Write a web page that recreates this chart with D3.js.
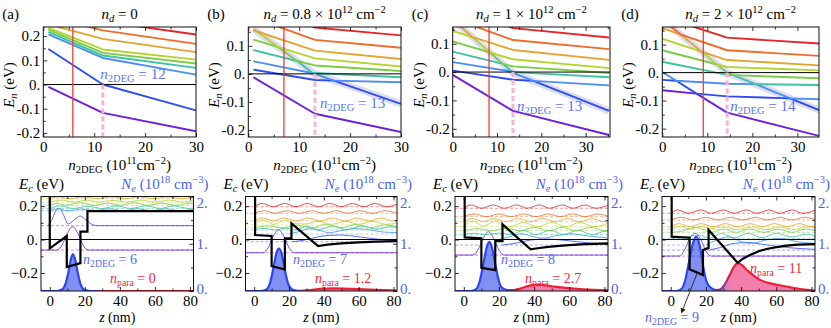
<!DOCTYPE html>
<html>
<head>
<meta charset="utf-8">
<script src="https://cdn.jsdelivr.net/npm/d3@7"></script>
<style>
  body { margin: 0; background: #fff; }
  svg text { font-family: "Liberation Serif", "DejaVu Serif", serif !important; }
</style>
</head>
<body>
<svg id="fig" width="831" height="328"></svg>
<script>
// ---------- data ----------
const levelColors = ["#6c1fdc", "#2e4cf2", "#4b8ff0", "#3fc29f", "#7ccd46", "#b6d42f", "#e2a52f", "#f06a28", "#e42626"];

const panelTags = ["(a)", "(b)", "(c)", "(d)"];
const ndValues = ["0", "0.8", "1", "2"];
const redLineN = [5.8, 7, 8.2, 9.1];
const pinkLineN = [11.7, 13.1, 13.6, 14.4];
const n2degTop = [12, 13, 13, 14];
const n2degBottom = [6, 7, 8, 9];
const nParaBottom = ["0", "1.2", "2.7", "11"];

const topXTicks = [0, 10, 20, 30];
const topXMinor = [5, 15, 25, 35];
const topYTicksA = [-0.2, -0.1, 0, 0.1, 0.2];
const topYTicks = [-0.2, -0.1, 0, 0.1];
const topYMinor = [-0.15, -0.05, 0.05, 0.15];

// E_n (eV) vs n2DEG, one polyline per level (index order, lowest first)
const levelsA = [
  [[1, -0.01], [11.7, -0.117], [30, -0.193]],
  [[1, 0.147], [11.7, 0.0], [30, -0.107]],
  [[1, 0.207], [11.7, 0.11], [30, 0.041]],
  [[1, 0.218], [11.7, 0.12], [30, 0.069]],
  [[1, 0.227], [11.7, 0.131], [30, 0.087]],
  [[1, 0.234], [11.7, 0.145], [30, 0.103]],
  [[1, 0.249], [11.7, 0.189], [30, 0.134]],
  [[1, 0.28], [11.7, 0.224], [30, 0.168]],
  [[1, 0.32], [11.7, 0.261], [30, 0.207]]
];
const levelsB = [
  [[1, -0.012], [13.1, -0.142], [30, -0.207]],
  [[1, 0.015], [13.1, -0.022], [16.8, -0.024], [30, -0.107]],
  [[1, 0.045], [12.7, 0.002], [13.1, 0.0], [16.8, -0.024], [30, -0.03]],
  [[1, 0.085], [9.6, 0.046], [12.7, 0.002], [13.1, 0.003], [30, -0.012]],
  [[1, 0.122], [5.9, 0.095], [9.6, 0.046], [13.1, 0.03], [30, 0.01]],
  [[1, 0.155], [1.7, 0.151], [5.9, 0.095], [13.1, 0.055], [30, 0.026]],
  [[1, 0.16], [1.7, 0.151], [13.1, 0.083], [30, 0.053]],
  [[1, 0.2], [13.1, 0.121], [30, 0.093]],
  [[1, 0.25], [13.1, 0.165], [30, 0.137]]
];
const levelsC = [
  [[0, -0.01], [13.6, -0.137], [35.3, -0.222]],
  [[0, 0.005], [13.6, -0.027], [18.2, -0.031], [35.3, -0.137]],
  [[0, 0.035], [13.3, 0.002], [13.6, -0.003], [18.2, -0.031], [35.3, -0.047]],
  [[0, 0.072], [11.3, 0.029], [13.3, 0.002], [13.6, 0.0], [35.3, -0.018]],
  [[0, 0.108], [8.4, 0.069], [11.3, 0.029], [13.6, 0.02], [35.3, -0.003]],
  [[0, 0.145], [4.5, 0.123], [8.4, 0.069], [13.6, 0.045], [35.3, 0.014]],
  [[0, 0.185], [4.5, 0.123], [13.6, 0.078], [35.3, 0.043]],
  [[0, 0.19], [13.6, 0.113], [35.3, 0.081]],
  [[0, 0.24], [13.6, 0.155], [35.3, 0.122]]
];
const levelsD = [
  [[0, -0.063], [7.6, -0.075], [14.4, -0.143], [34.8, -0.226]],
  [[0, -0.026], [3.1, -0.029], [7.6, -0.075], [14.4, -0.085], [28.4, -0.092], [34.8, -0.134]],
  [[0, 0.002], [3.1, -0.029], [14.4, -0.04], [20.7, -0.041], [28.4, -0.092], [34.8, -0.095]],
  [[0, 0.039], [14.4, -0.008], [15.7, -0.009], [20.7, -0.041], [34.8, -0.044]],
  [[0, 0.08], [12.2, 0.029], [14.4, 0.0], [15.7, -0.009], [34.8, -0.02]],
  [[0, 0.121], [8.7, 0.075], [12.2, 0.029], [14.4, 0.02], [34.8, 0.008]],
  [[0, 0.159], [4.0, 0.137], [8.7, 0.075], [14.4, 0.045], [34.8, 0.026]],
  [[0, 0.19], [4.0, 0.137], [14.4, 0.08], [34.8, 0.06]],
  [[0, 0.2], [14.4, 0.125], [34.8, 0.104]]
];
// the steep 2DEG state (lavender halo)
const haloB = [[1, 0.16], [13.1, 0.0], [30, -0.107]];
const haloC = [[0, 0.185], [13.6, -0.003], [35.3, -0.137]];
const haloD = [[0, 0.19], [14.4, 0.0], [34.8, -0.134]];

// ---------- bottom row: conduction band, states, densities ----------
const botZTicks = [0, 20, 40, 60, 80];
const botZMinor = [10, 30, 50, 70];
const botEcTicks = [-0.2, 0, 0.2];
const botEcMinor = [-0.1, 0.1];
const botNeTicks = [0, 1, 2];
const botNeMinor = [0.5, 1.5];

const ecA = [[0, 0.27], [0, -0.053], [9.7, 0.021], [9.7, -0.165], [17.5, -0.141], [17.5, 0.047], [21.5, 0.047], [21.5, 0.17], [82, 0.17]];
const ecB = [[0.5, 0.27], [0.5, 0.027], [10, 0.021], [10, -0.159], [17.6, -0.179], [17.6, 0.007], [21.4, 0.007], [21.4, 0.097], [36.7, -0.039], [42, -0.031], [50, -0.023], [60, -0.017], [70, -0.013], [82, -0.01]];
const ecC = [[0.5, 0.27], [0.5, 0.013], [10, 0.007], [10, -0.169], [17.9, -0.183], [17.9, -0.009], [22, -0.009], [22, 0.091], [38, -0.059], [42, -0.052], [48, -0.044], [56, -0.036], [66, -0.029], [82, -0.023]];
const ecD = [[0.5, 0.27], [0.5, 0.017], [10.7, 0.011], [10.7, -0.178], [18.3, -0.213], [18.3, -0.063], [21.5, -0.05], [21.5, 0.057], [38, -0.139], [41, -0.115], [45, -0.093], [50, -0.07], [55, -0.055], [64.5, -0.038], [72, -0.031], [82, -0.027]];

// [level energy, wavefunction offsets [z, dE]]
const statesA = [
  [-0.063, [[-5, 0], [4, 0], [7, 0.03], [10, 0.1], [13, 0.14], [16, 0.1], [19, 0.03], [22, 0], [82, 0]]],
  [0.083, [[-1, 0], [1, 0.03], [3.5, 0.09], [5.5, 0.104], [8, 0.06], [10.5, 0.01], [13.5, 0.03], [17.3, 0.058], [21, 0.03], [25, 0.004], [28, 0], [82, 0]]],
  [0.172, [[0, 0], [5, 0.012], [10, 0], [18, 0.01], [26, 0.002], [34, 0.012], [42, 0], [50, 0.012], [58, 0], [66, 0.012], [74, 0], [82, 0.01]]],
  [0.186, [[0, 0], [6, 0.015], [13, 0], [22, 0.012], [30, 0], [38, 0.015], [46, 0], [55, 0.015], [63, 0], [71, 0.015], [79, 0], [82, 0.003]]],
  [0.205, [[0, 0], [4, 0.012], [9, 0], [17, 0.015], [25, 0], [33, 0.012], [40, 0], [48, 0.015], [56, 0], [64, 0.012], [72, 0], [80, 0.012], [82, 0.01]]],
  [0.224, [[0, 0], [7, 0.012], [14, 0], [21, 0.012], [28, 0], [36, 0.01], [44, 0], [52, 0.012], [60, 0], [68, 0.012], [76, 0], [82, 0.008]]],
  [0.245, [[0, 0], [5, 0.01], [11, 0], [19, 0.01], [27, 0], [35, 0.01], [43, 0], [51, 0.01], [59, 0], [67, 0.01], [75, 0], [82, 0.006]]]
];
const statesB = [
  [-0.079, [[-5, 0], [5, 0], [8, 0.03], [11, 0.1], [14, 0.136], [17, 0.1], [20, 0.03], [23, 0], [82, 0]]],
  [-0.013, [[22, 0], [28, 0.008], [35, 0.025], [43, 0.038], [50, 0.04], [58, 0.032], [67, 0.02], [76, 0.01], [82, 0.006]]],
  [0.033, [[20, 0], [26, 0.015], [32, 0.032], [38, 0.02], [43, 0.008], [50, 0.02], [58, 0.032], [66, 0.025], [74, 0.012], [82, 0.008]]],
  [0.057, [[0, 0], [6, 0.01], [12, 0], [18, 0.01], [24, 0], [30, 0.025], [37, 0.002], [45, 0.025], [53, 0.002], [62, 0.025], [70, 0.005], [78, 0.02], [82, 0.015]]],
  [0.07, [[0, 0], [8, 0.012], [16, 0], [24, 0.015], [33, 0], [41, 0.02], [50, 0], [58, 0.02], [67, 0], [75, 0.018], [82, 0.005]]],
  [0.087, [[0, 0], [2, 0.018], [5, 0.03], [8, 0.018], [11.3, 0.004], [15, 0.02], [18.3, 0.03], [22, 0.01], [29, 0.006], [36.6, 0.022], [44, 0.004], [52.9, 0.022], [60, 0.004], [68, 0.022], [76, 0.004], [82, 0.012]]],
  [0.111, [[0, 0], [5, 0.018], [11, 0], [17, 0.018], [24, 0], [31, 0.018], [38, 0], [45, 0.018], [52, 0], [59, 0.018], [66, 0], [73, 0.018], [80, 0], [82, 0.003]]],
  [0.157, [[0, 0], [6, 0.015], [12, 0], [19, 0.015], [26, 0], [33, 0.015], [40, 0], [47, 0.015], [54, 0], [61, 0.015], [68, 0], [75, 0.015], [82, 0]]],
  [0.196, [[0, 0], [4.4, 0.02], [11, 0], [17.4, 0.02], [24, 0], [30.4, 0.02], [37, 0], [43.4, 0.02], [50, 0], [56.4, 0.02], [63, 0], [69.4, 0.02], [76, 0], [82, 0.015]]]
];
const statesC = [
  [-0.093, [[-5, 0], [5, 0], [8, 0.03], [11, 0.1], [14, 0.14], [17, 0.1], [20, 0.03], [23, 0], [82, 0]]],
  [-0.033, [[22, 0], [30, 0.012], [38, 0.03], [47, 0.036], [56, 0.03], [66, 0.018], [75, 0.01], [82, 0.006]]],
  [0.0, [[20, 0], [27, 0.02], [33, 0.035], [39, 0.018], [45, 0.008], [52, 0.022], [61, 0.034], [70, 0.022], [82, 0.01]]],
  [0.03, [[0, 0], [6, 0.008], [12, 0], [20, 0.008], [27, 0], [34, 0.025], [41, 0], [49, 0.025], [57, 0], [65, 0.025], [73, 0], [81, 0.02], [82, 0.018]]],
  [0.053, [[0, 0], [8, 0.012], [16, 0], [24, 0.015], [32, 0], [40, 0.02], [48, 0], [56, 0.02], [64, 0], [72, 0.02], [80, 0], [82, 0.003]]],
  [0.077, [[0, 0], [2, 0.02], [5, 0.035], [8, 0.02], [11, 0.003], [15, 0.02], [18, 0.035], [21, 0.015], [26, 0], [34, 0.025], [42, 0], [50, 0.025], [58, 0], [66, 0.025], [74, 0], [82, 0.02]]],
  [0.107, [[0, 0], [5, 0.018], [11, 0], [17, 0.018], [24, 0], [31, 0.018], [38, 0], [45, 0.018], [52, 0], [59, 0.018], [66, 0], [73, 0.018], [80, 0], [82, 0.003]]],
  [0.137, [[0, 0], [6, 0.016], [13, 0], [20, 0.016], [27, 0], [34, 0.016], [41, 0], [48, 0.016], [55, 0], [62, 0.016], [69, 0], [76, 0.016], [82, 0.002]]],
  [0.187, [[0, 0], [4, 0.02], [10, 0], [17, 0.02], [23, 0], [30, 0.02], [36, 0], [43, 0.02], [49, 0], [56, 0.02], [62, 0], [69, 0.02], [75, 0], [82, 0.018]]]
];
const statesD = [
  [-0.099, [[-5, 0], [5, 0], [8, 0.04], [11, 0.11], [14, 0.136], [17, 0.1], [20, 0.03], [23, 0], [82, 0]]],
  [-0.063, [[22, 0], [28, 0.015], [36, 0.04], [44, 0.045], [52, 0.035], [62, 0.02], [72, 0.01], [82, 0.004]]],
  [-0.033, [[20, 0], [26, 0.03], [33, 0.05], [40, 0.02], [46, 0.01], [54, 0.03], [62, 0.04], [72, 0.02], [82, 0.01]]],
  [0.007, [[0, 0], [8, 0.008], [16, 0.02], [22, 0], [29, 0.03], [36, 0.002], [44, 0.03], [52, 0.004], [60, 0.03], [69, 0.008], [77, 0.025], [82, 0.015]]],
  [0.043, [[0, 0], [6, 0.006], [11, 0.025], [14, 0.03], [18, 0.02], [23, 0], [30, 0.02], [37, 0], [45, 0.02], [53, 0], [61, 0.02], [69, 0], [77, 0.02], [82, 0.01]]],
  [0.06, [[0, 0], [3, 0.015], [6, 0.02], [10, 0.004], [14, 0.01], [18, 0.02], [22, 0.005], [30, 0.015], [38, 0], [46, 0.015], [54, 0], [62, 0.015], [70, 0], [78, 0.015], [82, 0.01]]],
  [0.077, [[0, 0], [5, 0.018], [11, 0], [17, 0.018], [24, 0], [31, 0.018], [38, 0], [45, 0.018], [52, 0], [59, 0.018], [66, 0], [73, 0.018], [80, 0], [82, 0.003]]],
  [0.117, [[0, 0], [6, 0.016], [13, 0], [20, 0.016], [27, 0], [34, 0.016], [41, 0], [48, 0.016], [55, 0], [62, 0.016], [69, 0], [76, 0.016], [82, 0.002]]],
  [0.157, [[0, 0], [4, 0.02], [10, 0], [17, 0.02], [23, 0], [30, 0.02], [36, 0], [43, 0.02], [49, 0], [56, 0.02], [62, 0], [69, 0.02], [75, 0], [82, 0.018]]]
];

// electron density N_e (10^18 cm^-3): 2DEG part and parasitic part
const n2degA = [[-5, 0], [4, 0], [7, 0.03], [9, 0.15], [10.5, 0.38], [12, 0.66], [13.2, 0.78], [14.5, 0.66], [16, 0.38], [17.5, 0.15], [19.5, 0.03], [23, 0], [82, 0]];
const paraA = [];
const n2degB = [[-5, 0], [4, 0], [7, 0.03], [9, 0.16], [11, 0.48], [12.7, 0.8], [14.2, 0.9], [15.7, 0.8], [17.4, 0.48], [19.4, 0.16], [21.5, 0.04], [24, 0.01]];
const paraB = [[27, 0.004], [32, 0.02], [38, 0.045], [45, 0.057], [52, 0.052], [60, 0.038], [70, 0.022], [82, 0.01]];
const n2degC = [[-5, 0], [4, 0], [7, 0.04], [9, 0.2], [11, 0.55], [13, 0.92], [14.5, 1.04], [16, 0.92], [18, 0.55], [20, 0.2], [22, 0.06], [25, 0.02]];
const paraC = [[28, 0.02], [32, 0.05], [36, 0.1], [40, 0.13], [44, 0.128], [50, 0.1], [58, 0.065], [68, 0.035], [82, 0.012]];
const n2degD = [[-5, 0], [3, 0], [6, 0.04], [8, 0.2], [10, 0.55], [12.5, 1.0], [14.5, 1.15], [16.5, 0.95], [18.5, 0.5], [20.5, 0.18], [23, 0.06], [26, 0.02]];
const paraD = [[28, 0.03], [30, 0.1], [33, 0.3], [36, 0.52], [38, 0.59], [40, 0.56], [44, 0.42], [51, 0.23], [58, 0.15], [65, 0.1], [72, 0.05], [82, 0.006]];

// ---------- drawing ----------
const svg = d3.select("#fig");
const defs = svg.append("defs");

function rich(g, x, y, parts, o = {}) {
  const fs = o.size || 15;
  const t = g.append("text").attr("x", x).attr("y", y)
    .attr("font-size", fs)
    .attr("fill", o.fill || "#000")
    .attr("text-anchor", o.anchor || "start")
    .style("white-space", "pre");
  if (o.rot) t.attr("transform", `rotate(-90,${x},${y})`);
  parts.forEach(p => {
    const s = t.append("tspan").text(p[0]);
    const f = p[1] || "";
    if (f.includes("i")) s.attr("font-style", "italic");
    if (f.includes("_")) s.attr("font-size", fs * 0.7).attr("baseline-shift", (-fs * 0.22) + "px");
    if (f.includes("^")) s.attr("font-size", fs * 0.7).attr("baseline-shift", (fs * 0.42) + "px");
  });
  return t;
}

function axisStyle(a) {
  a.select(".domain").remove();
  a.attr("font-size", 15);
  a.selectAll("line").attr("stroke-width", 0.8);
}

function ticksBox(g, x, y, xt, xm, yt, ym, xf, yf) {
  const [x0, x1] = x.range(), [yb, yt0] = y.range();
  const xmin = xm.filter(v => v <= x.domain()[1]);
  g.append("g").attr("transform", `translate(0,${yb})`)
    .call(d3.axisBottom(x).tickValues(xt).tickSize(-4).tickPadding(4).tickFormat(xf)).call(axisStyle);
  g.append("g").attr("transform", `translate(0,${yb})`)
    .call(d3.axisBottom(x).tickValues(xmin).tickSize(-2.5).tickFormat("")).call(axisStyle);
  g.append("g").attr("transform", `translate(0,${yt0})`)
    .call(d3.axisTop(x).tickValues(xt).tickSize(-4).tickFormat("")).call(axisStyle);
  g.append("g").attr("transform", `translate(0,${yt0})`)
    .call(d3.axisTop(x).tickValues(xmin).tickSize(-2.5).tickFormat("")).call(axisStyle);
  g.append("g").attr("transform", `translate(${x0},0)`)
    .call(d3.axisLeft(y).tickValues(yt).tickSize(-4).tickPadding(3).tickFormat(yf)).call(axisStyle);
  g.append("g").attr("transform", `translate(${x0},0)`)
    .call(d3.axisLeft(y).tickValues(ym).tickSize(-2.5).tickFormat("")).call(axisStyle);
  g.append("rect").attr("x", x0).attr("y", yt0).attr("width", x1 - x0).attr("height", yb - yt0)
    .attr("fill", "none").attr("stroke", "#111").attr("stroke-width", 1);
}

const topFmt = v => v === 0 ? "0." : (v < 0 ? "-" : "") + Math.abs(v).toFixed(1);

const topCfg = [
  { x0: 43.3, x1: 196, xd: [0, 30], yd: [-0.217, 0.238], yt: topYTicksA, lines: levelsA, halo: null, lab: [-2.5, 79] },
  { x0: 248.3, x1: 401, xd: [0, 30], yd: [-0.225, 0.167], yt: topYTicks, lines: levelsB, halo: haloB, lab: [5, 108] },
  { x0: 452.7, x1: 610, xd: [0, 35.5], yd: [-0.229, 0.159], yt: topYTicks, lines: levelsC, halo: haloC, lab: [4, 111] },
  { x0: 662.3, x1: 819, xd: [0, 34.8], yd: [-0.23, 0.163], yt: topYTicks, lines: levelsD, halo: haloD, lab: [3, 111] }
];

topCfg.forEach((p, i) => {
  const g = svg.append("g");
  const x = d3.scaleLinear().domain(p.xd).range([p.x0, p.x1]);
  const y = d3.scaleLinear().domain(p.yd).range([137, 27]);
  const cid = "clipT" + i;
  defs.append("clipPath").attr("id", cid).append("rect")
    .attr("x", p.x0).attr("y", 27).attr("width", p.x1 - p.x0).attr("height", 110);
  const pl = g.append("g").attr("clip-path", `url(#${cid})`);
  const line = d3.line().x(d => x(d[0])).y(d => y(d[1]));

  if (p.halo) {
    pl.append("path").datum(p.halo).attr("d", line).attr("fill", "none")
      .attr("stroke", "#c4c4f4").attr("stroke-width", 7).attr("stroke-opacity", 0.6)
      .attr("stroke-linejoin", "round");
  }
  p.lines.forEach((l, k) => {
    pl.append("path").datum(l).attr("d", line).attr("fill", "none")
      .attr("stroke", levelColors[k]).attr("stroke-width", 1.9)
      .attr("stroke-linejoin", "round");
  });
  pl.append("line").attr("x1", p.x0).attr("x2", p.x1).attr("y1", y(0)).attr("y2", y(0))
    .attr("stroke", "#000").attr("stroke-width", 1);
  pl.append("line").attr("x1", x(redLineN[i])).attr("x2", x(redLineN[i])).attr("y1", 27).attr("y2", 137)
    .attr("stroke", "#f03a3a").attr("stroke-width", 1.3);
  pl.append("line").attr("x1", x(pinkLineN[i])).attr("x2", x(pinkLineN[i])).attr("y1", y(0)).attr("y2", 137)
    .attr("stroke", "#f7b3da").attr("stroke-width", 3).attr("stroke-dasharray", "5,3");

  rich(g, x(pinkLineN[i]) + p.lab[0], p.lab[1],
    [["n", "i"], ["2DEG", "_"], [" = " + n2degTop[i]]], { size: 15, fill: "#5b74f2" });

  ticksBox(g, x, y, topXTicks, topXMinor, p.yt, topYMinor, d3.format("d"), topFmt);

  // panel tag and title
  g.append("text").attr("x", p.x0 - 41).attr("y", 19).attr("font-size", 15).text(panelTags[i]);
  const title = i === 0
    ? [["n", "i"], ["d", "i_"], [" = 0"]]
    : [["n", "i"], ["d", "i_"], [" = " + ndValues[i] + " × 10"], ["12", "^"], [" cm"], ["−2", "^"]];
  rich(g, (p.x0 + p.x1) / 2, 19, title, { anchor: "middle" });
  rich(g, p.x0 - 29, 85, [["E", "i"], ["n", "i_"], [" (eV)"]], { anchor: "middle", rot: true });
  rich(g, (p.x0 + p.x1) / 2, 170, [["n", "i"], ["2DEG", "_"], [" (10"], ["11", "^"], ["cm"], ["−2", "^"], [")"]], { anchor: "middle" });
});

// ---------- bottom row ----------
const botCfg = [
  { x0: 41, x1: 193.5, ec: ecA, st: statesA, n2: n2degA, pa: paraA, g0: 24, g1: 32, l2: [42, 264], lp: [69, 283] },
  { x0: 245.5, x1: 397, ec: ecB, st: statesB, n2: n2degB, pa: paraB, g0: 24, g1: 31, l2: [47.5, 264], lp: [69.5, 283] },
  { x0: 455, x1: 608, ec: ecC, st: statesC, n2: n2degC, pa: paraC, g0: 24, g1: 31, l2: [46, 264], lp: [70, 283] },
  { x0: 662, x1: 815, ec: ecD, st: statesD, n2: n2degD, pa: paraD, g0: 24, g1: 35, l2: [-17, 322], lp: [88, 273] }
];

const arrowM = defs.append("marker").attr("id", "arr").attr("viewBox", "0 0 10 10")
  .attr("refX", 1).attr("refY", 5).attr("markerWidth", 6).attr("markerHeight", 6).attr("orient", "auto-start-reverse");
arrowM.append("path").attr("d", "M0,0L10,5L0,10z").attr("fill", "#222");

botCfg.forEach((p, i) => {
  const g = svg.append("g");
  const z = d3.scaleLinear().domain([-5, 82]).range([p.x0, p.x1]);
  const ec = d3.scaleLinear().domain([-0.308, 0.2575]).range([291, 196.5]);
  const ne = d3.scaleLinear().domain([0, 2]).range([291, 196.5]);
  const cid = "clipB" + i;
  defs.append("clipPath").attr("id", cid).append("rect")
    .attr("x", p.x0).attr("y", 196.5).attr("width", p.x1 - p.x0).attr("height", 94.5);
  const pl = g.append("g").attr("clip-path", `url(#${cid})`);

  // density gradient blue -> red
  const gf = defs.append("linearGradient").attr("id", "gf" + i).attr("gradientUnits", "userSpaceOnUse")
    .attr("x1", z(p.g0)).attr("x2", z(p.g1)).attr("y1", 0).attr("y2", 0);
  gf.append("stop").attr("offset", 0).attr("stop-color", "#6a7cf0");
  gf.append("stop").attr("offset", 1).attr("stop-color", "#f2669c");
  const gs = defs.append("linearGradient").attr("id", "gs" + i).attr("gradientUnits", "userSpaceOnUse")
    .attr("x1", z(p.g0)).attr("x2", z(p.g1)).attr("y1", 0).attr("y2", 0);
  gs.append("stop").attr("offset", 0).attr("stop-color", "#2a46f2");
  gs.append("stop").attr("offset", 1).attr("stop-color", "#f01e36");

  const dens = p.n2.concat(p.pa);
  pl.append("path").datum(dens)
    .attr("d", d3.area().x(d => z(d[0])).y0(ne(0)).y1(d => ne(d[1])).curve(d3.curveMonotoneX))
    .attr("fill", `url(#gf${i})`).attr("fill-opacity", 0.85);
  pl.append("path").datum(dens)
    .attr("d", d3.line().x(d => z(d[0])).y(d => ne(d[1])).curve(d3.curveMonotoneX))
    .attr("fill", "none").attr("stroke", `url(#gs${i})`).attr("stroke-width", 2.2);

  // states: dashed level + wavefunction
  p.st.forEach((s, k) => {
    const c = levelColors[k];
    pl.append("line").attr("x1", p.x0).attr("x2", p.x1).attr("y1", ec(s[0])).attr("y2", ec(s[0]))
      .attr("stroke", c).attr("stroke-width", 0.8).attr("stroke-opacity", 0.6).attr("stroke-dasharray", "3,2");
    pl.append("path").datum(s[1])
      .attr("d", d3.line().x(d => z(d[0])).y(d => ec(s[0] + d[1])).curve(d3.curveMonotoneX))
      .attr("fill", "none").attr("stroke", c).attr("stroke-width", 1).attr("stroke-opacity", 0.8);
  });

  // Fermi level and conduction band edge
  pl.append("line").attr("x1", p.x0).attr("x2", p.x1).attr("y1", ec(0)).attr("y2", ec(0))
    .attr("stroke", "#000").attr("stroke-width", 1);
  pl.append("path").datum(p.ec)
    .attr("d", d3.line().x(d => z(d[0])).y(d => ec(d[1])))
    .attr("fill", "none").attr("stroke", "#000").attr("stroke-width", 2.2).attr("stroke-linejoin", "miter");

  // axes
  const ecFmt = v => v === 0 ? "0." : (v < 0 ? "−" : "") + Math.abs(v).toFixed(1);
  ticksBox(g, z, ec, botZTicks, botZMinor, botEcTicks, botEcMinor, d3.format("d"), ecFmt);
  g.append("g").attr("transform", `translate(${p.x1},0)`)
    .call(d3.axisRight(ne).tickValues(botNeTicks).tickSize(-4).tickFormat("")).call(axisStyle);
  g.append("g").attr("transform", `translate(${p.x1},0)`)
    .call(d3.axisRight(ne).tickValues(botNeMinor).tickSize(-2.5).tickFormat("")).call(axisStyle);
  botNeTicks.forEach(v => {
    const yy = Math.min(Math.max(ne(v), 203), 289) + 5;
    g.append("text").attr("x", p.x1 + 3).attr("y", yy).attr("font-size", 15)
      .attr("fill", "#4a64f0").text(v + ".");
  });

  rich(g, p.x0 - 22, 189, [["E", "i"], ["c", "i_"], [" (eV)"]]);
  rich(g, p.x1 + 15, 189, [["N", "i"], ["e", "i_"], [" (10"], ["18", "^"], [" cm"], ["−3", "^"], [")"]], { anchor: "end", fill: "#4a64f0" });
  rich(g, (p.x0 + p.x1) / 2, 322, [["z", "i"], [" (nm)"]], { anchor: "middle", size: 14 });

  rich(g, p.x0 + p.l2[0], p.l2[1], [["n", "i"], ["2DEG", "_"], [" = " + n2degBottom[i]]], { size: 14, fill: "#4f6cf2" });
  rich(g, p.x0 + p.lp[0], p.lp[1], [["n", "i"], ["para", "_"], [" = " + nParaBottom[i]]], { size: 14, fill: "#f0283c" });

  if (i === 3) {
    g.append("line").attr("x1", p.x0 + 21).attr("y1", 309).attr("x2", z(15)).attr("y2", ne(0.38))
      .attr("stroke", "#222").attr("stroke-width", 0.9).attr("marker-start", "url(#arr)");
  }
});
</script>
</body>
</html>
